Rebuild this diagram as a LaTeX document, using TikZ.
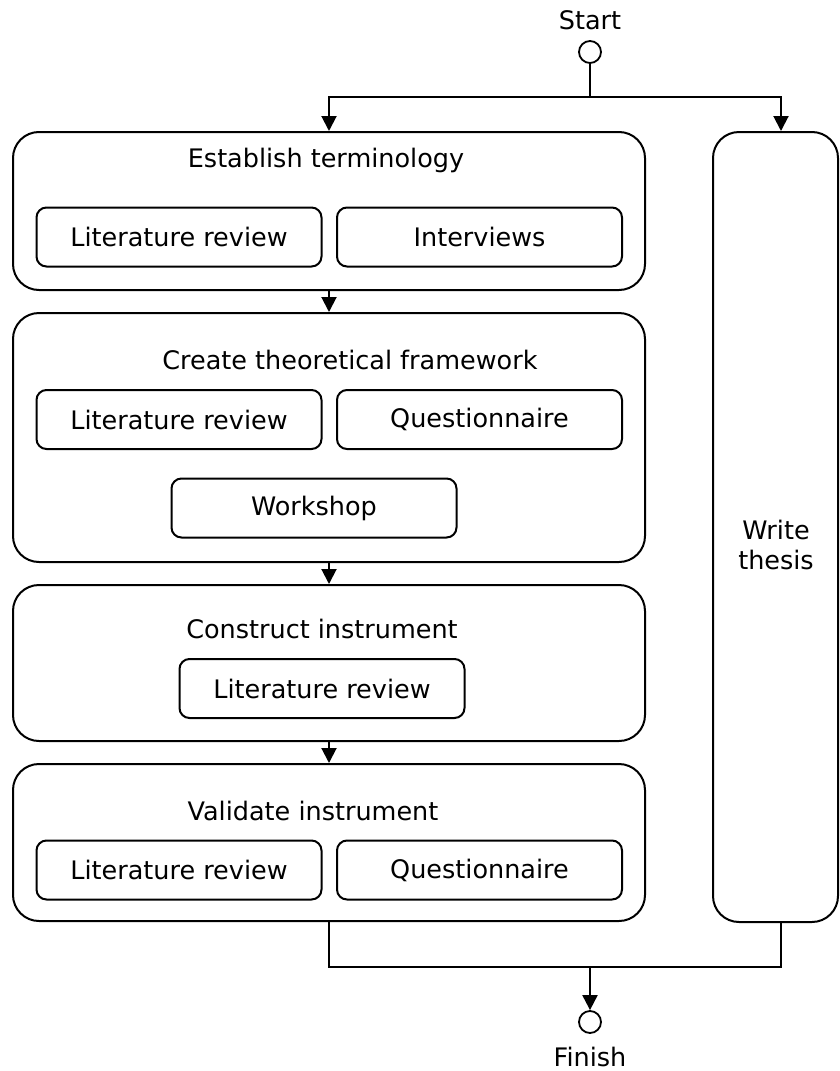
\documentclass[tikz,border=0pt]{standalone}
\usepackage{fontspec}
\setmainfont{DejaVu Sans}
\usetikzlibrary{arrows.meta}

\begin{document}
\begin{tikzpicture}[x=1pt, y=-1pt,
    every node/.style={font=\fontsize{25.5}{30}\selectfont},
    fase/.style={draw, line width=2pt, rounded corners=26pt, inner sep=0pt},
    attivita/.style={draw, line width=2pt, rounded corners=10pt, minimum width=285pt, minimum height=59pt, inner sep=0pt},
    evento/.style={circle, draw, line width=1.8pt, minimum size=22pt, inner sep=0pt},
    linea/.style={line width=2pt},
    freccia/.style={line width=2pt, -{Triangle[width=15pt,length=15pt]}}]
    \useasboundingbox (0,0) rectangle (839,1071);

    % Fasi
    \foreach \n/\y/\h in {est/211/158, ctf/437.5/249, ci/663/156, vi/842.5/157} {
            \node[fase, minimum width=632pt, minimum height=\h pt] (\n) at (329,\y) {};
        }
    \foreach \n/\x/\y/\t in {est/326/160/Establish terminology, ctf/350/360/Create theoretical framework, ci/322/629/Construct instrument, vi/313/811/Validate instrument} {
            \node (\n-tit) at (\x,\y) {\t};
        }

    % Attivita
    \foreach \n/\x/\y/\t in {est-a/179/237/Literature review, est-b/479.5/237/Interviews, ctf-a/179/419.5/Literature review, ctf-b/479.5/419.5/Questionnaire, ctf-c/314/508/Workshop, ci-a/322/688.5/Literature review, vi-a/179/870/Literature review, vi-b/479.5/870/Questionnaire} {
            \node[attivita] (\n) at (\x,\y) {\t};
        }

    % Tesi
    \node[fase, minimum width=125pt, minimum height=790pt] (tesi) at (775.5,527) {};
    \node[align=center] (tesi-tit) at (776,545) {Write\\thesis};

    % Inizio e fine
    \node[evento] (start) at (590,52) {};
    \node (start-tit) at (590,20) {Start};
    \node[evento] (finish) at (590,1022) {};
    \node (finish-tit) at (590,1057) {Finish};

    % Archi
    \coordinate (split) at (590,97);
    \coordinate (join) at (590,967);
    \draw[linea] (start) -- (split);
    \draw[freccia] (split) -| (est.north);
    \draw[freccia] (split) -| ([xshift=5.5pt]tesi.north);
    \foreach \a/\b in {est/ctf, ctf/ci, ci/vi} {
            \draw[freccia] (\a) -- (\b);
        }
    \draw[linea] (vi.south) |- (join) -| ([xshift=5.5pt]tesi.south);
    \draw[freccia] (join) -- (finish);
\end{tikzpicture}
\end{document}
